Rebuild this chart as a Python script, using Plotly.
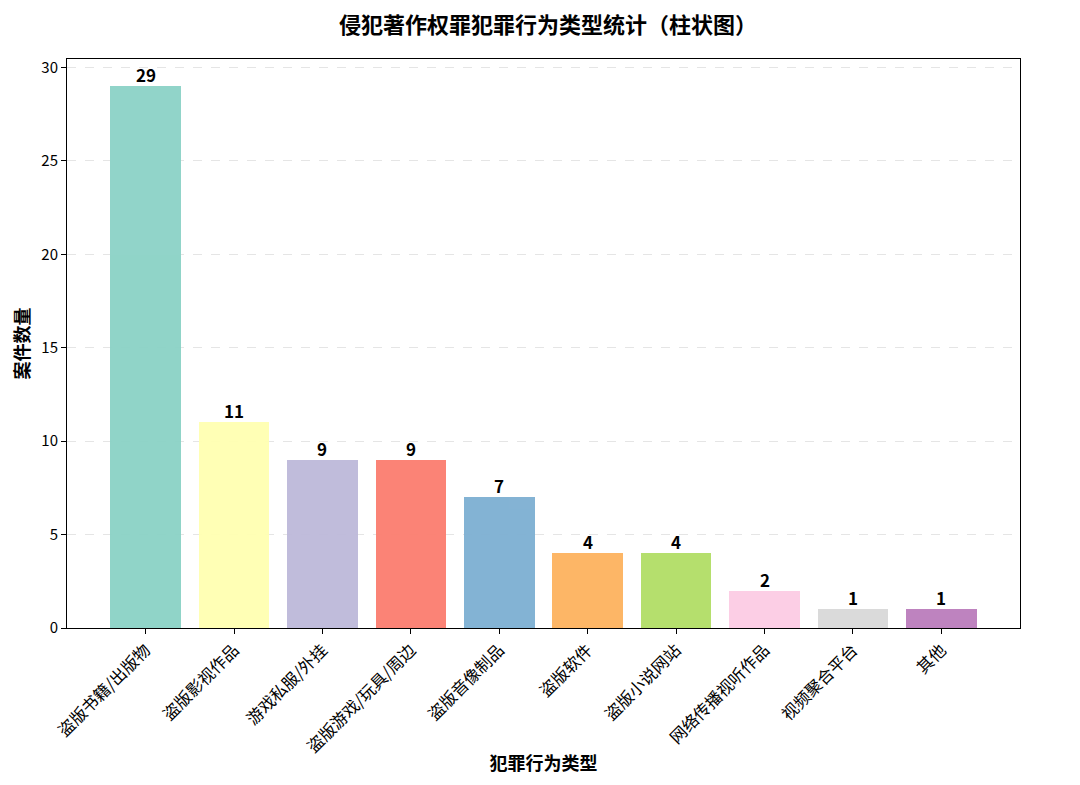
import plotly.graph_objects as go

categories = ["盗版书籍/出版物", "盗版影视作品", "游戏私服/外挂", "盗版游戏/玩具/周边", "盗版音像制品",
              "盗版软件", "盗版小说网站", "网络传播视听作品", "视频聚合平台", "其他"]
counts = [29, 11, 9, 9, 7, 4, 4, 2, 1, 1]
colors = ["#8dd3c7", "#ffffb3", "#bebada", "#fb8072", "#80b1d3",
          "#fdb462", "#b3de69", "#fccde5", "#d9d9d9", "#bc80bd"]
y_ticks = [0, 5, 10, 15, 20, 25, 30]

FONT = "Noto Sans CJK SC"
xs = list(range(len(categories)))

fig = go.Figure(go.Bar(
    x=xs, y=counts, width=0.8,
    marker=dict(color=colors, line=dict(width=0)),
    opacity=0.97,
))

for xi, v in zip(xs, counts):
    fig.add_annotation(x=xi, y=v, text=f"<b>{v}</b>", showarrow=False,
                       yanchor="bottom", yshift=-3,
                       font=dict(family=FONT, size=17, color="black"))

fig.update_layout(
    width=1080, height=785,
    paper_bgcolor="white", plot_bgcolor="white",
    margin=dict(l=59, r=68, t=51, b=165),
    font=dict(family=FONT, size=14, color="black"),
    title=dict(text="侵犯著作权罪犯罪行为类型统计（柱状图）", x=0.5, xanchor="center",
               y=0.978, yanchor="middle",
               font=dict(family=FONT, size=22, color="black", weight="bold")),
    showlegend=False,
    bargap=0,
)
fig.update_xaxes(
    range=[-0.89, 9.89], tickmode="array", tickvals=xs, ticktext=categories,
    tickangle=-45, ticks="outside", ticklen=5, tickcolor="black",
    showline=True, linecolor="black", linewidth=1, mirror=True, showgrid=False,
    tickfont=dict(family=FONT, size=16.5, color="black"),
    title=dict(text="犯罪行为类型", font=dict(family=FONT, size=18, weight="bold"), standoff=0),
)
fig.update_yaxes(
    range=[0, 30.45], tickmode="array", tickvals=y_ticks,
    ticks="outside", ticklen=5, tickcolor="black",
    showline=True, linecolor="black", linewidth=1, mirror=True,
    showgrid=True, gridcolor="rgba(0,0,0,0.1)", griddash="dash", gridwidth=1,
    zeroline=False,
    tickfont=dict(family=FONT, size=15, color="black"),
    title=dict(text="案件数量", font=dict(family=FONT, size=18, weight="bold"), standoff=8),
)
fig.write_html("out.html")
